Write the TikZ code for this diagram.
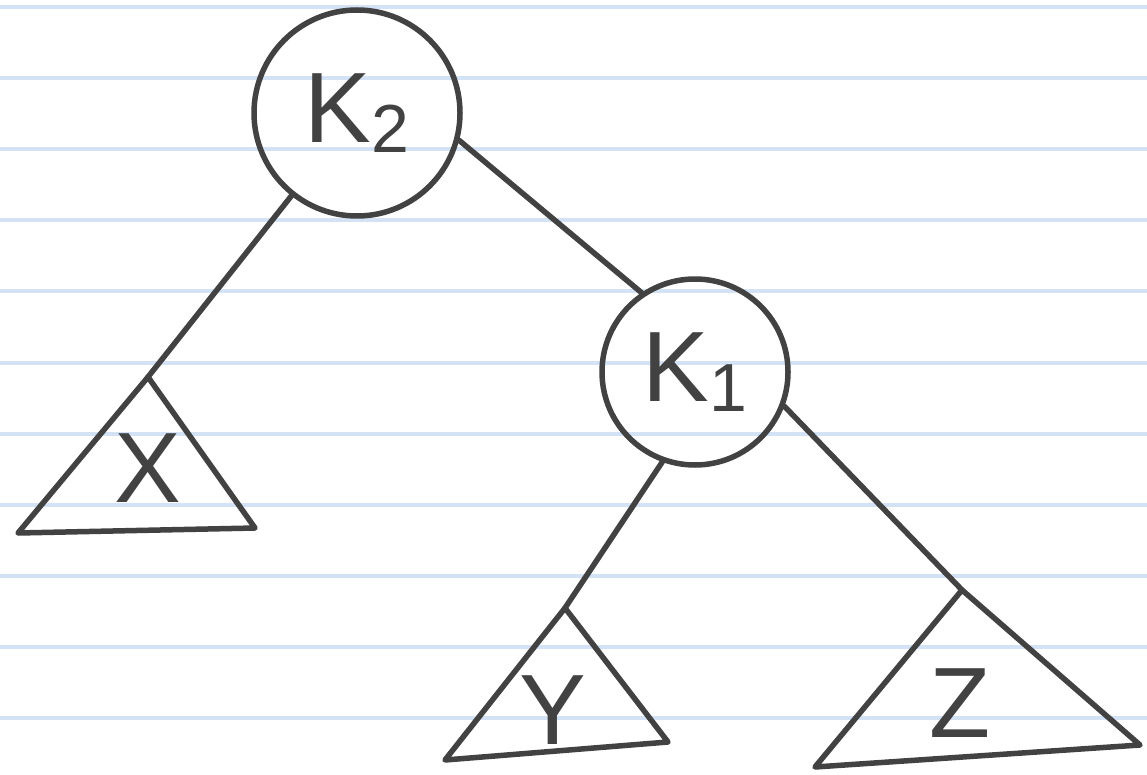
\documentclass[tikz,border=0pt]{standalone}
\usepackage{fontspec}
\setsansfont{Liberation Sans}
\usetikzlibrary{positioning}

\definecolor{ink}{RGB}{66,66,66}
\definecolor{paperline}{RGB}{212,226,246}

\newcommand{\keysub}[1]{\raisebox{-0.1em}{\fontsize{68}{70}\selectfont #1}}

\begin{document}
\begin{tikzpicture}[
  x=1pt, y=-1pt,
  font=\sffamily\fontsize{100}{110}\selectfont,
  ink/.style  ={draw=ink,line width=5.5pt,line cap=round,line join=round},
  key/.style  ={ink,circle,minimum size=206pt,inner sep=0pt,text=ink},
  tree/.style ={text=ink,inner sep=0pt,font=\sffamily\fontsize{100}{110}\selectfont},
]

%% paper
\useasboundingbox (0,0) rectangle (1147,775);
\fill[white] (0,0) rectangle (1147,775);
\foreach \i in {0,...,10}
  \draw[paperline,line width=4pt] (0,7+71.1*\i) -- (1147,7+71.1*\i);

% --- keys ---
\node[key] (k2) at (357,113) {K\keysub{2}};
\node[key,minimum size=186pt] (k1) at (695,372) {K\keysub{1}};

% --- subtree X (left of K2) ---
\coordinate (xtop)   at (148,377);
\coordinate (xleft)  at (18,533);
\coordinate (xright) at (255,528);
\draw[ink] (xtop) -- (xleft) -- (xright) -- cycle;
\node[tree] (x) at (148,468) {X};

% --- subtree Y (left of K1) ---
\coordinate (ytop)   at (565,608);
\coordinate (yleft)  at (445,760);
\coordinate (yright) at (668,742);
\draw[ink] (ytop) -- (yleft) -- (yright) -- cycle;
\node[tree] (y) at (553,710) {Y};

% --- subtree Z (right of K1) ---
\coordinate (ztop)   at (962,590);
\coordinate (zleft)  at (815,767);
\coordinate (zright) at (1140,745);
\draw[ink] (ztop) -- (zleft) -- (zright) -- cycle;
\node[tree] (z) at (960,703) {Z};

% --- edges ---
\draw[ink] (k2.-15) -- (k1.124);
\draw[ink] (k2) -- (xtop);
\draw[ink] (k1.250) -- (ytop);
\draw[ink] (k1.-21) -- (ztop);

\end{tikzpicture}
\end{document}
